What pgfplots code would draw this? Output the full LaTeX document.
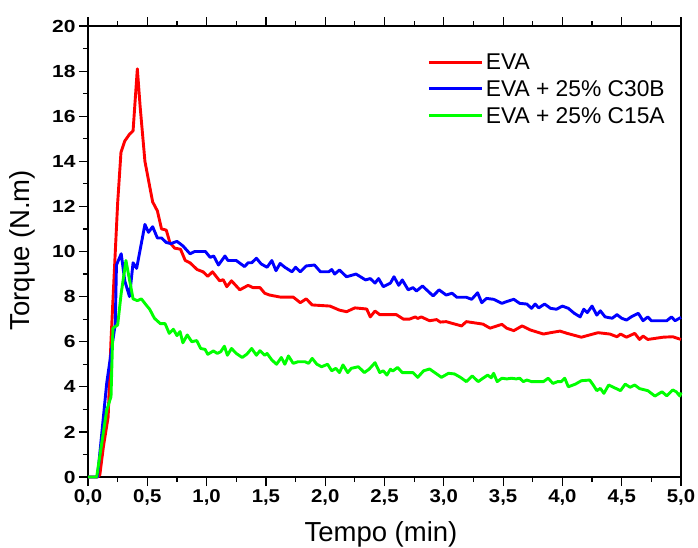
\documentclass[border=0pt]{standalone}
\usepackage{pgfplots}
\pgfplotsset{compat=1.18}
\usepackage{fontspec}
\setmainfont{Liberation Sans}
\newfontfamily\ytickfont{Liberation Sans}[FakeStretch=1.2]
\newfontfamily\xtickfont{Liberation Sans}[FakeStretch=1.1]
\begin{document}
\begin{tikzpicture}
\begin{axis}[
  scale only axis,
  width=593pt, height=451pt,
  xmin=0, xmax=5, ymin=0, ymax=20,
  xtick={0,0.5,...,5}, ytick={0,2,...,20},
  minor x tick num=1, minor y tick num=1,
  tick align=outside,
  xtick pos=both, ytick pos=left,
  xticklabel pos=lower,
  major tick length=9pt, minor tick length=5pt,
  every tick/.style={black, line width=1.2pt},
  axis line style={line width=1.2pt},
  /pgf/number format/assume math mode=true,
  xticklabel style={/pgf/number format/.cd, fixed, fixed zerofill, precision=1, use comma, /tikz/.cd, font=\xtickfont\fontsize{18.5}{20}\selectfont\bfseries},
  yticklabel style={font=\ytickfont\fontsize{17.5}{19}\selectfont\bfseries},
  xlabel={Tempo (min)},
  ylabel={Torque (N.m)},
  xlabel style={font=\fontsize{27.5}{30}\selectfont, at={(axis description cs:0.494,-0.142)}, anchor=base},
  ylabel style={font=\fontsize{27.5}{30}\selectfont, at={(axis description cs:-0.111,0.503)}, anchor=center},
  clip=false,
  legend cell align=left,
  legend style={draw=none, fill=none, at={(axis description cs:0.572,0.945)}, anchor=north west, font=\fontsize{22.8}{24}\selectfont, row sep=4.5pt, inner sep=0pt, nodes={inner sep=2.5pt}},
  legend image code/.code={\draw[#1, line width=2.9pt] (0pt,0pt) -- (53pt,0pt);},
  every axis plot/.append style={line width=2.9pt, line join=round},
]
\addplot[color=red] coordinates {
(0,0) (0.08,0) (0.10,0.1) (0.13,1.35) (0.17,2.67) (0.194,6.07) (0.25,12.15) (0.278,14.4) (0.31,14.9) (0.35,15.2) (0.38,15.35) (0.416,18.1) (0.44,16.4) (0.48,14.0) (0.545,12.2) (0.585,11.8) (0.62,11.0) (0.66,10.95) (0.69,10.4) (0.73,10.15) (0.78,10.1) (0.82,9.6) (0.86,9.5) (0.92,9.2) (0.97,9.1) (1.01,8.9) (1.05,9.1) (1.11,8.7) (1.14,8.75) (1.17,8.44) (1.21,8.7) (1.28,8.3) (1.35,8.5) (1.39,8.4) (1.45,8.4) (1.49,8.15) (1.53,8.07) (1.62,7.98) (1.73,7.98) (1.79,7.73) (1.84,7.9) (1.89,7.63) (2.04,7.58) (2.12,7.4) (2.18,7.33) (2.25,7.5) (2.35,7.45) (2.38,7.1) (2.42,7.36) (2.46,7.2) (2.60,7.2) (2.66,7.0) (2.71,7.0) (2.76,7.1) (2.78,7.03) (2.81,7.1) (2.88,6.93) (2.94,6.98) (2.97,6.87) (3.02,6.89) (3.08,6.8) (3.15,6.7) (3.19,6.89) (3.33,6.78) (3.39,6.6) (3.46,6.72) (3.49,6.77) (3.53,6.6) (3.59,6.49) (3.66,6.7) (3.73,6.52) (3.84,6.34) (3.90,6.4) (3.98,6.47) (4.04,6.37) (4.16,6.2) (4.23,6.3) (4.30,6.4) (4.40,6.34) (4.46,6.22) (4.49,6.34) (4.54,6.2) (4.61,6.37) (4.65,6.1) (4.68,6.25) (4.72,6.1) (4.85,6.2) (4.93,6.22) (5.0,6.1)
};
\addlegendentry{EVA}
\addplot[color=blue] coordinates {
(0,0) (0.08,0) (0.158,4.17) (0.23,6.8) (0.24,9.4) (0.28,9.9) (0.31,8.7) (0.35,8.0) (0.38,9.5) (0.41,9.25) (0.48,11.2) (0.51,10.85) (0.545,11.1) (0.585,10.6) (0.62,10.6) (0.66,10.4) (0.70,10.35) (0.75,10.45) (0.80,10.25) (0.86,9.9) (0.90,10.0) (0.99,10.0) (1.03,9.74) (1.06,9.8) (1.10,9.4) (1.155,9.8) (1.18,9.6) (1.25,9.6) (1.32,9.33) (1.35,9.5) (1.38,9.5) (1.42,9.7) (1.46,9.45) (1.51,9.3) (1.55,9.6) (1.585,9.15) (1.62,9.47) (1.66,9.3) (1.72,9.1) (1.75,9.3) (1.79,9.1) (1.84,9.36) (1.91,9.4) (1.96,9.1) (2.03,9.1) (2.055,9.2) (2.08,9.0) (2.12,9.18) (2.18,8.88) (2.26,9.0) (2.34,8.74) (2.38,8.8) (2.42,8.6) (2.45,8.8) (2.49,8.44) (2.55,8.6) (2.58,8.88) (2.62,8.5) (2.65,8.74) (2.70,8.3) (2.74,8.4) (2.77,8.25) (2.82,8.47) (2.91,8.03) (2.96,8.3) (3.02,8.07) (3.07,8.15) (3.11,7.97) (3.19,7.97) (3.235,7.88) (3.285,8.17) (3.32,7.73) (3.36,7.92) (3.42,7.88) (3.49,7.7) (3.53,7.78) (3.59,7.88) (3.64,7.7) (3.70,7.67) (3.74,7.48) (3.77,7.67) (3.80,7.5) (3.85,7.67) (3.90,7.48) (3.95,7.44) (4.0,7.58) (4.05,7.48) (4.10,7.26) (4.15,7.1) (4.18,7.44) (4.21,7.29) (4.25,7.58) (4.29,7.18) (4.32,7.37) (4.36,7.1) (4.42,7.04) (4.46,7.2) (4.50,7.04) (4.54,6.96) (4.58,7.1) (4.64,7.26) (4.68,6.93) (4.72,7.1) (4.75,6.93) (4.88,6.93) (4.92,7.1) (4.95,6.93) (5.0,7.08)
};
\addlegendentry{EVA + 25\% C30B}
\addplot[color=green] coordinates {
(0,0) (0.073,0) (0.158,2.97) (0.194,3.56) (0.21,6.6) (0.25,6.74) (0.28,8.15) (0.32,9.6) (0.35,8.74) (0.38,7.9) (0.416,7.82) (0.45,7.9) (0.49,7.63) (0.52,7.44) (0.56,7.04) (0.61,6.8) (0.65,6.8) (0.685,6.37) (0.72,6.55) (0.75,6.27) (0.776,6.45) (0.80,5.95) (0.837,6.3) (0.875,6.0) (0.917,6.05) (0.95,5.7) (0.987,5.66) (1.01,5.44) (1.057,5.59) (1.09,5.48) (1.12,5.56) (1.15,5.8) (1.175,5.4) (1.21,5.7) (1.25,5.48) (1.30,5.3) (1.34,5.45) (1.38,5.7) (1.42,5.4) (1.45,5.6) (1.49,5.4) (1.51,5.48) (1.55,5.19) (1.59,5.0) (1.63,5.3) (1.66,5.0) (1.69,5.37) (1.73,5.04) (1.77,5.11) (1.83,5.11) (1.86,5.04) (1.89,5.26) (1.93,5.0) (1.97,4.89) (2.02,5.0) (2.055,4.71) (2.09,4.82) (2.12,4.63) (2.15,4.97) (2.19,4.63) (2.22,4.82) (2.28,4.89) (2.33,4.63) (2.37,4.78) (2.42,5.07) (2.46,4.63) (2.49,4.71) (2.52,4.52) (2.55,4.78) (2.57,4.7) (2.61,4.86) (2.65,4.63) (2.74,4.63) (2.78,4.42) (2.83,4.71) (2.88,4.79) (2.94,4.57) (2.98,4.42) (3.04,4.6) (3.09,4.57) (3.14,4.42) (3.19,4.23) (3.24,4.48) (3.29,4.23) (3.33,4.38) (3.37,4.52) (3.40,4.4) (3.42,4.6) (3.45,4.23) (3.49,4.38) (3.53,4.35) (3.57,4.38) (3.61,4.35) (3.64,4.38) (3.67,4.23) (3.70,4.3) (3.74,4.23) (3.84,4.23) (3.88,4.38) (3.92,4.15) (3.96,4.23) (3.99,4.23) (4.02,4.38) (4.05,4.0) (4.11,4.12) (4.16,4.27) (4.23,4.3) (4.26,4.08) (4.29,3.83) (4.32,3.93) (4.35,3.71) (4.39,4.08) (4.43,3.98) (4.49,3.83) (4.53,4.12) (4.57,3.98) (4.61,4.08) (4.65,3.92) (4.72,3.83) (4.78,3.59) (4.84,3.78) (4.88,3.6) (4.93,3.86) (4.96,3.78) (4.99,3.59) (5.0,3.75)
};
\addlegendentry{EVA + 25\% C15A}
\end{axis}
\pgfresetboundingbox
\path[use as bounding box] (-88pt,-70pt) rectangle (610pt,477pt);
\end{tikzpicture}
\end{document}
